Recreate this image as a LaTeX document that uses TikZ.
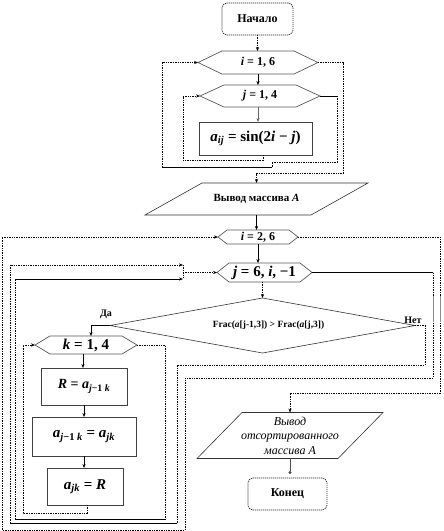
\documentclass[tikz,border=0pt]{standalone}
\usepackage{fontspec}
\setmainfont{Liberation Serif}
\usetikzlibrary{arrows.meta,calc}
\newcommand\hexshape[2]{\draw[hexl] (#1.west) -- ([xshift=#2]#1.north west) -- ([xshift=-#2]#1.north east) -- (#1.east) -- ([xshift=-#2]#1.south east) -- ([xshift=#2]#1.south west) -- cycle;}
\newcommand\parashape[2]{\draw[shp] ([xshift=#2]#1.north west) -- (#1.north east) -- ([xshift=-#2]#1.south east) -- (#1.south west) -- cycle;}
\newcommand\fs[1]{\fontsize{#1}{#1}\selectfont}
\begin{document}
\begin{tikzpicture}[x=1pt,y=-1pt,
  blk/.style={rectangle,inner sep=0pt,outer sep=0pt,draw=none,align=center},
  boxr/.style={blk,draw=black!75,line width=0.6pt},
  term/.style={blk,draw=black!85,line width=0.7pt,rounded corners=5pt,dash pattern=on 1.2pt off 0.8pt},
  shp/.style={draw=black!80,line width=0.6pt},
  hexl/.style={draw=black!65,line width=0.7pt},
  dots/.style={line width=0.9pt,dash pattern=on 1.4pt off 1pt},
  sol/.style={line width=0.7pt},
  arr/.style={-{Stealth[length=4pt,width=3.2pt]}},
  lbl/.style={font=\bfseries\fs{10}}
]
\useasboundingbox (0,0) rectangle (444,531);

% ---- first part ----
\node[term,minimum width=71pt,minimum height=32pt,font=\bfseries\fs{12}] (start) at (257.5,19) {Начало};
\node[blk,minimum width=120pt,minimum height=23pt,font=\bfseries\fs{12}] (i1) at (258,62.5) {\textit{i} = 1, 6};
\hexshape{i1}{24pt}
\node[blk,minimum width=120pt,minimum height=22pt,font=\bfseries\fs{12}] (j1) at (260,96) {\textit{j} = 1, 4};
\hexshape{j1}{24pt}
\node[boxr,minimum width=113pt,minimum height=33pt,font=\bfseries\fs{15}] (a1) at (255.5,138.5) {\textit{a}\textsubscript{\textit{ij}} = sin(2\textit{i} − \textit{j})};

\draw[dots,arr] (start.south) -- (start.south |- i1.north);
\draw[sol,arr] (i1.south) -- (i1.south |- j1.north);
\draw[sol,draw=black!60,arr] (i1.south |- j1.south) -- (i1.south |- a1.north);
\draw[dots,arr] ([xshift=7.5pt]a1.south) |- (183,160) |- (j1.west);
\draw[sol] (j1.east) -- (337,96);
\draw[dots] (337,96) |- (272,162) -- (272,167);
\draw[sol] (272,167) -- (162,167);
\draw[dots,arr] (162,167) |- (i1.west);

\node[blk,minimum width=223pt,minimum height=32pt,font=\bfseries\fs{11}] (out1) at (256.5,199) {Вывод массива \textit{A}};
\parashape{out1}{57pt}
\draw[dots,arr] (i1.east) -| (343,173) -| (out1.north);

% ---- sorting ----
\node[blk,minimum width=80pt,minimum height=14pt,font=\bfseries\fs{12}] (i2) at (258,237) {\textit{i} = 2, 6};
\hexshape{i2}{9pt}
\node[blk,minimum width=95pt,minimum height=19pt,font=\bfseries\fs{15}] (j2) at (264.5,272.5) {\textit{j} = 6, \textit{i}, −1};
\hexshape{j2}{12pt}
\node[blk,minimum width=305pt,minimum height=55pt,font=\bfseries\fs{9.5}] (d) at (262.5,325.5) {\hspace*{12pt}Frac(\textit{a}[j-1,3]) > Frac(\textit{a}[j,3])};
\draw[shp] (d.north) -- (d.east) -- (d.south) -- (d.west) -- cycle;
\node[lbl] (yes) at (106,314) {Да};
\node[lbl] (no) at (413,320) {Нет};

\draw[sol,arr] (out1.south) -- (out1.south |- i2.north);
\draw[sol,arr] (i2.south) -- (i2.south |- j2.north);
\draw[dots,arr] (d.north |- j2.south) -- (d.north);

\node[blk,minimum width=102pt,minimum height=18pt,font=\bfseries\fs{15}] (k) at (86,345) {\textit{k} = 1, 4};
\hexshape{k}{15pt}
\node[boxr,minimum width=86pt,minimum height=37pt,font=\bfseries\fs{14}] (R) at (84,386.5) {\textit{R} = \textit{a}\textsubscript{\textit{j}−1 \textit{k}}};
\node[boxr,minimum width=104pt,minimum height=39pt,font=\bfseries\fs{15}] (M) at (84,436.5) {\textit{a}\textsubscript{\textit{j}−1 \textit{k}} = \textit{a}\textsubscript{\textit{jk}}};
\node[boxr,minimum width=76pt,minimum height=37pt,font=\bfseries\fs{15}] (S) at (85,486.5) {\textit{a}\textsubscript{\textit{jk}} = \textit{R}};

\draw[sol,arr] (d.west) -| ([xshift=5pt]k.north);
\draw[sol,arr] ([xshift=-3pt]k.south) -- ([xshift=-3pt]k.south |- R.north);
\draw[sol,arr] (R.south) -- (R.south |- M.north);
\draw[sol,arr] (M.south) -- (M.south |- S.north);
\draw[dots,arr] ([xshift=2pt]S.south) |- (23,513) |- (k.west);

\coordinate (jA) at (183,265);
\coordinate (jB) at (183,279);
\coordinate (jM) at (183,272.5);
% k exit
\draw[dots] (k.east) -| (165,519);
\draw[sol] (165,519) -- (15,519);
\draw[dots] (15,519) -- (15,279);
\draw[sol,arr] (15,279) -- (jB);
% no branch
\draw[dots] (d.east) -| (425,365) -| (177,523);
\draw[sol] (177,523) -- (10,523);
\draw[dots,arr] (10,523) |- (jA);
\draw[dots] (jA) -- (jB);
\draw[dots,arr] (jM) -- (j2.west);
% j exit
\draw[sol] (j2.east) -- (433,272.5);
\draw[dots,arr] (433,272.5) |- (185,378) |- (2,530) |- (i2.west);
% i exit
\node[blk,minimum width=186pt,minimum height=46pt,font=\itshape\fontsize{12}{14.5}\selectfont] (out2) at (290,435.5) {Вывод\\отсортированного\\массива А};
\parashape{out2}{45pt}
\draw[dots,arr] (i2.east) -| (440,393) -| (out2.north);
\draw[black!45,line width=1pt] (433,296) -- (433,322);
\draw[black!45,line width=1pt] (440,296) -- (440,322);

\node[term,minimum width=79pt,minimum height=32pt,font=\bfseries\fs{12}] (fin) at (287.5,494) {Конец};
\draw[sol,black!70,-{Circle[length=3pt]},shorten >=4pt] (out2.south) -- (out2.south |- fin.north);
\end{tikzpicture}
\end{document}
